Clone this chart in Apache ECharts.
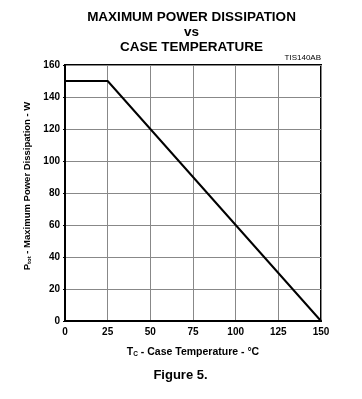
<!DOCTYPE html>
<html>
<head>
<meta charset="utf-8">
<script src="https://cdn.jsdelivr.net/npm/echarts@6/dist/echarts.min.js"></script>
<style>
html,body{margin:0;padding:0;background:#fff;}
#c{width:362px;height:399px;}
</style>
</head>
<body>
<div id="c"></div>
<script>
// Data
var temperatures = [0, 25, 150];
var powerW = [150, 150, 0];
var xTicks = [0, 25, 50, 75, 100, 125, 150];
var yTicks = [0, 20, 40, 60, 80, 100, 120, 140, 160];
var titleLines = ['MAXIMUM POWER DISSIPATION', 'vs', 'CASE TEMPERATURE'];

var FONT = '"Liberation Sans", Arial, sans-serif';
var chart = echarts.init(document.getElementById('c'), null, {renderer: 'canvas'});

var points = temperatures.map(function (t, i) { return [t, powerW[i]]; });

function txt(text, x, y, size, weight, align) {
  return {
    type: 'text', x: x, y: y, silent: true,
    style: {text: text, fill: '#000', font: weight + ' ' + size + 'px ' + FONT,
            textAlign: align || 'center', textVerticalAlign: 'middle'}
  };
}

chart.setOption({
  animation: false,
  backgroundColor: '#fff',
  graphic: [
    txt(titleLines[0], 191.5, 17, 13.5, 'bold'),
    txt(titleLines[1], 191.5, 32, 13.5, 'bold'),
    txt(titleLines[2], 191.5, 47.5, 13.5, 'bold'),
    txt('TIS140AB', 321, 57.5, 8, 'normal', 'right'),
    txt('Figure 5.', 180.5, 375, 13, 'bold')
  ],
  grid: {left: 65, top: 65, width: 256, height: 256, show: true, borderColor: '#000', borderWidth: 2, backgroundColor: 'transparent'},
  xAxis: {
    type: 'value', min: 0, max: 150, interval: 25,
    name: '{b|T}{s|C}{b| - Case Temperature - °C}',
    nameLocation: 'middle', nameGap: 25,
    nameTextStyle: {rich: {
      b: {fontFamily: FONT, fontWeight: 'bold', fontSize: 10.5, color: '#000'},
      s: {fontFamily: FONT, fontWeight: 'bold', fontSize: 6.5, color: '#000', padding: [5, 0, 0, 0]}
    }},
    axisLine: {show: true, lineStyle: {color: '#000', width: 2}},
    axisTick: {show: false},
    axisLabel: {fontFamily: FONT, fontWeight: 'bold', fontSize: 10, color: '#000', margin: 6},
    splitLine: {show: true, lineStyle: {color: '#888', width: 1}}
  },
  yAxis: {
    type: 'value', min: 0, max: 160, interval: 20,
    name: '{b|P}{s|tot}{b| - Maximum Power Dissipation - W}',
    nameLocation: 'middle', nameGap: 24,
    nameTextStyle: {padding: [0, 0, 0, 14], rich: {
      b: {fontFamily: FONT, fontWeight: 'bold', fontSize: 9.5, color: '#000'},
      s: {fontFamily: FONT, fontWeight: 'bold', fontSize: 6, color: '#000', padding: [5, 0, 0, 0]}
    }},
    axisLine: {show: true, lineStyle: {color: '#000', width: 2}},
    axisTick: {show: true, length: 2, lineStyle: {color: '#000'}},
    axisLabel: {fontFamily: FONT, fontWeight: 'bold', fontSize: 10, color: '#000', margin: 5},
    splitLine: {show: true, lineStyle: {color: '#888', width: 1}}
  },
  series: [{
    type: 'line',
    data: points,
    symbol: 'none',
    lineStyle: {color: '#000', width: 2},
    z: 5
  }]
});
</script>
</body>
</html>
